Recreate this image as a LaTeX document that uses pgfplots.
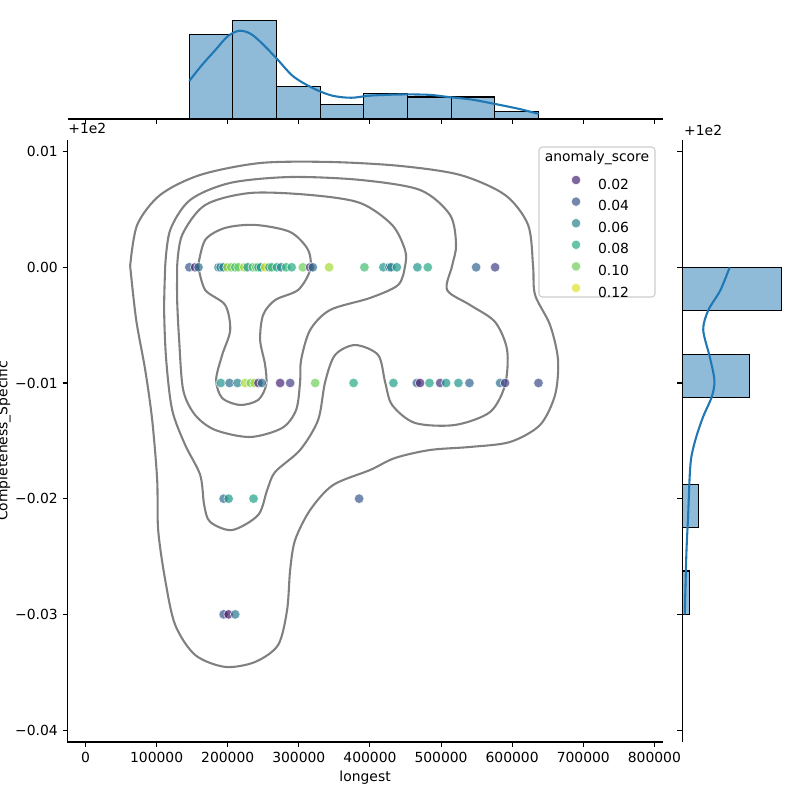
\documentclass[border=0pt]{standalone}
\usepackage{pgfplots}
\pgfplotsset{compat=1.18}
\usepackage{fontspec}
\setmainfont{DejaVu Sans}
\definecolor{histfill}{HTML}{8FBBD9}
\definecolor{kdeline}{HTML}{1F77B4}
\definecolor{contourgray}{HTML}{808080}
\definecolor{vA}{HTML}{482475}
\definecolor{vB}{HTML}{39578B}
\definecolor{vC}{HTML}{26828D}
\definecolor{vD}{HTML}{25AA82}
\definecolor{vE}{HTML}{6FCD57}
\definecolor{vF}{HTML}{DDE326}
\pgfplotsset{vleg/.style={legend image code/.code={\path[draw=none, fill=none] (0pt,-3.95pt) rectangle (14pt,11.55pt); \path[fill=#1, fill opacity=0.7, draw=white, line width=0.45pt] (7pt,3.8pt) circle (3.6pt);}}}
\begin{document}
\fontsize{10.42}{12.5}\selectfont
\begin{tikzpicture}[x=1pt,y=1pt]
\useasboundingbox (-50.625,-43.5) rectangle (549.375,556.5);
\pgfplotsset{every axis/.append style={scale only axis, font=\fontsize{10.42}{12.5}\selectfont,
  tick align=outside, major tick length=3.65pt, tick style={line width=0.83pt, black},
  axis line style={line width=0.83pt, black}}}
% ---------------- main joint axis ----------------
\begin{axis}[name=main,
  width=446.4pt, height=451.5pt, clip=false,
  xmin=-25.3, xmax=811.7, ymin=-41.03, ymax=11.0,
  axis x line*=bottom, axis y line*=left,
  xtick={0,100,200,300,400,500,600,700,800},
  xticklabels={0,100000,200000,300000,400000,500000,600000,700000,800000},
  ytick={-40,-30,-20,-10,0,10},
  yticklabels={−0.04,−0.03,−0.02,−0.01,0.00,0.01},
  xlabel={longest}, ylabel={Completeness\_Specific},
  xlabel style={at={(axis description cs:0.5,-0.0595)}, anchor=center},
  ylabel style={at={(axis description cs:-0.107,0.5)}, anchor=center},
  colormap name=viridis, point meta min=0.008, point meta max=0.126,
  legend style={at={(axis description cs:0.8387,0.9507)}, anchor=north west, draw=none, fill=none,
    inner sep=0pt, outer sep=0pt, row sep=0pt, column sep=9.5pt, nodes={inner sep=0pt},
    font=\fontsize{10.42}{12.5}\selectfont},
  legend cell align=left,
]
% KDE contours (outer to inner)
\addplot[contourgray, line width=1.56pt, smooth, forget plot] coordinates {
(62.8,0.11) (72.7,3.66) (105.0,6.25) (161.3,7.98) (245.6,9.01) (344.0,9.10) (442.4,8.76)
(526.8,7.98) (590.0,6.25) (622.4,3.66) (629.4,0.11) (632.2,-2.39) (653.3,-4.99) (664.5,-8.01)
(660.3,-11.04) (639.2,-13.63) (597.0,-15.10) (540.8,-15.53) (484.6,-15.79) (435.4,-16.48)
(400.3,-17.52) (348.2,-18.82) (315.9,-20.98) (294.8,-23.57) (287.8,-26.16) (283.5,-29.62)
(270.9,-32.64) (238.6,-34.11) (196.4,-34.54) (154.2,-33.51) (126.1,-30.91) (112.1,-27.03)
(102.2,-22.71) (100.8,-18.38) (93.8,-13.20) (84.0,-8.88) (71.3,-4.55) (62.8,0.11)};
\addplot[contourgray, line width=1.56pt, smooth, forget plot] coordinates {
(112.1,0.11) (119.1,3.22) (147.2,5.82) (203.5,7.29) (287.8,7.80) (386.2,7.55) (470.5,6.68)
(512.7,4.52) (521.1,1.93) (515.5,0.11) (508.5,-1.96) (540.8,-3.26) (576.0,-4.73) (592.9,-7.15)
(590.0,-10.17) (568.9,-12.51) (519.7,-13.63) (463.5,-13.46) (431.2,-11.90) (421.3,-9.91)
(411.5,-7.58) (379.2,-6.72) (351.0,-7.58) (337.0,-9.91) (327.1,-13.20) (301.8,-15.79)
(266.7,-17.69) (255.5,-19.25) (242.8,-21.41) (206.3,-22.71) (175.3,-22.01) (166.9,-20.54)
(161.3,-17.95) (140.2,-15.36) (121.9,-12.33) (113.5,-8.01) (110.6,-3.69) (112.1,0.11)};
\addplot[contourgray, line width=1.56pt, smooth, forget plot] coordinates {
(128.9,0.11) (135.9,2.79) (168.3,5.38) (231.5,6.42) (315.9,6.25) (386.2,5.56) (431.2,3.66)
(449.4,1.49) (449.4,0.11) (439.6,-1.53) (400.3,-2.65) (344.0,-3.69) (315.9,-5.42) (303.2,-8.01)
(301.8,-9.91) (296.2,-12.33) (276.5,-13.89) (231.5,-14.67) (182.3,-14.06) (154.2,-12.77)
(137.4,-10.61) (131.7,-6.28) (128.9,-2.83) (128.9,0.11)};
\addplot[contourgray, line width=1.56pt, smooth, forget plot] coordinates {
(158.4,0.11) (168.3,2.36) (196.4,3.40) (238.6,3.66) (287.8,3.05) (313.1,1.49) (315.9,-0.23)
(299.0,-1.96) (266.7,-2.83) (249.8,-4.12) (245.6,-6.28) (252.6,-8.44) (254.1,-10.17)
(242.8,-11.47) (217.5,-11.90) (192.2,-11.30) (183.7,-9.74) (192.2,-7.58) (203.5,-5.42)
(196.4,-3.26) (168.3,-1.96) (158.4,0.11)};
% scatter
\addplot[scatter, only marks, mark=*, mark size=3.6pt, scatter src=explicit, forget plot,
  scatter/use mapped color={draw=white, fill=mapped color, fill opacity=0.7, draw opacity=0.8, line width=0.45pt}]
  table[meta=c] {
x y c
146 0 0.04
154.2 0 0.02
158.9 0 0.05
187 0 0.055
190 0 0.06
194 0 0.06
199.6 0 0.11
205 0 0.10
210.5 0 0.09
215 0 0.10
223.1 0 0.11
228 0 0.07
235.3 0 0.09
240 0 0.10
243.2 0 0.08
246.6 0 0.07
252.6 0 0.12
258.7 0 0.065
262 0 0.09
269.1 0 0.075
275 0 0.06
282.2 0 0.085
290 0 0.08
305.6 0 0.10
315.9 0 0.02
319.7 0 0.05
342.6 0 0.11
392.2 0 0.09
418.9 0 0.07
427.4 0 0.05
430 0 0.06
437.8 0 0.07
466.7 0 0.07
481.4 0 0.08
549.3 0 0.045
576 0 0.03
190.3 -10 0.07
202.5 -10 0.05
213.7 -10 0.06
224.5 -10 0.11
232.5 -10 0.10
237.6 -10 0.11
243.2 -10 0.02
248 -10 0.05
273.7 -10 0.02
287.8 -10 0.03
323 -10 0.10
377 -10 0.08
433 -10 0.075
465.9 -10 0.045
470.5 -10 0.02
483.7 -10 0.075
498.7 -10 0.025
507.1 -10 0.07
524.4 -10 0.07
539.9 -10 0.045
583 -10 0.05
590 -10 0.03
637 -10 0.035
194.3 -20 0.05
201.3 -20 0.07
236.3 -20 0.075
384.8 -20 0.04
194.3 -30 0.04
201.3 -30 0.015
210.5 -30 0.055
};
% legend frame and title
\path[draw={rgb,255:red,204;green,204;blue,204}, line width=0.8pt, fill=white, fill opacity=0.8, draw opacity=1, rounded corners=2.5pt]
  (axis description cs:0.7922,0.7392) rectangle (axis description cs:0.9870,0.9884);
\node[anchor=center] at (axis description cs:0.8896,0.970) {anomaly\_score};
\node[anchor=west, inner sep=0pt] at (axis description cs:0.001,1.0199) {+1e2};
\addlegendimage{vleg=vA}\addlegendentry{0.02}
\addlegendimage{vleg=vB}\addlegendentry{0.04}
\addlegendimage{vleg=vC}\addlegendentry{0.06}
\addlegendimage{vleg=vD}\addlegendentry{0.08}
\addlegendimage{vleg=vE}\addlegendentry{0.10}
\addlegendimage{vleg=vF}\addlegendentry{0.12}
\end{axis}
% ---------------- top marginal ----------------
\begin{axis}[at={(main.north west)}, anchor=south west, yshift=15.75pt,
  width=446.4pt, height=77.85pt,
  xmin=-25.3, xmax=811.7, ymin=0, ymax=28.35,
  axis x line*=bottom, axis y line=none,
  xtick={0,100,200,300,400,500,600,700,800}, xticklabels={}, ytick=\empty]
\addplot[ybar interval, fill=histfill, draw=black, line width=0.8pt] coordinates {
(146,23) (207.375,27) (268.75,9) (330.125,4) (391.5,7) (452.875,6) (514.25,6) (575.625,2) (637,2)};
\addplot[kdeline, line width=1.56pt, smooth] coordinates {
(146,10.4) (164,14.8) (182.5,18.8) (200,22.6) (216.4,24.1) (232,23.3) (248,20.7) (268.9,16.5)
(291.8,11.7) (319,8.5) (346.4,6.4) (373.8,5.8) (401.1,6.4) (444.8,6.7) (483.1,6.6) (510.4,6.0)
(543.2,5.3) (576,4.1) (608.7,2.8) (637.2,1.4)};
\end{axis}
% ---------------- right marginal ----------------
\begin{axis}[at={(main.south east)}, anchor=south west, xshift=14.7pt,
  width=77.85pt, height=451.5pt, clip=false,
  xmin=0, xmax=46.2, ymin=-41.03, ymax=11.0,
  axis y line*=left, axis x line=none,
  ytick={-40,-30,-20,-10,0,10}, yticklabels={}, xtick=\empty]
\addplot[xbar interval, fill=histfill, draw=black, line width=0.8pt] coordinates {
(3,-30) (0,-26.25) (7,-22.5) (0,-18.75) (0,-15) (30,-11.25) (0,-7.5) (44,-3.75) (44,0)};
\addplot[kdeline, line width=1.56pt, smooth] coordinates {
(1.1,-30) (1.8,-24.8) (2.6,-21.4) (3.3,-18.0) (4.1,-16.3) (6.3,-14.6) (9.3,-12.9) (13.1,-11.2)
(14.3,-9.8) (12.3,-7.8) (9.3,-5.4) (11.6,-3.7) (16.9,-2.0) (21.1,0)};
\node[anchor=west, inner sep=0pt] at (axis description cs:0.016,1.0166) {+1e2};
\end{axis}
\end{tikzpicture}
\end{document}
